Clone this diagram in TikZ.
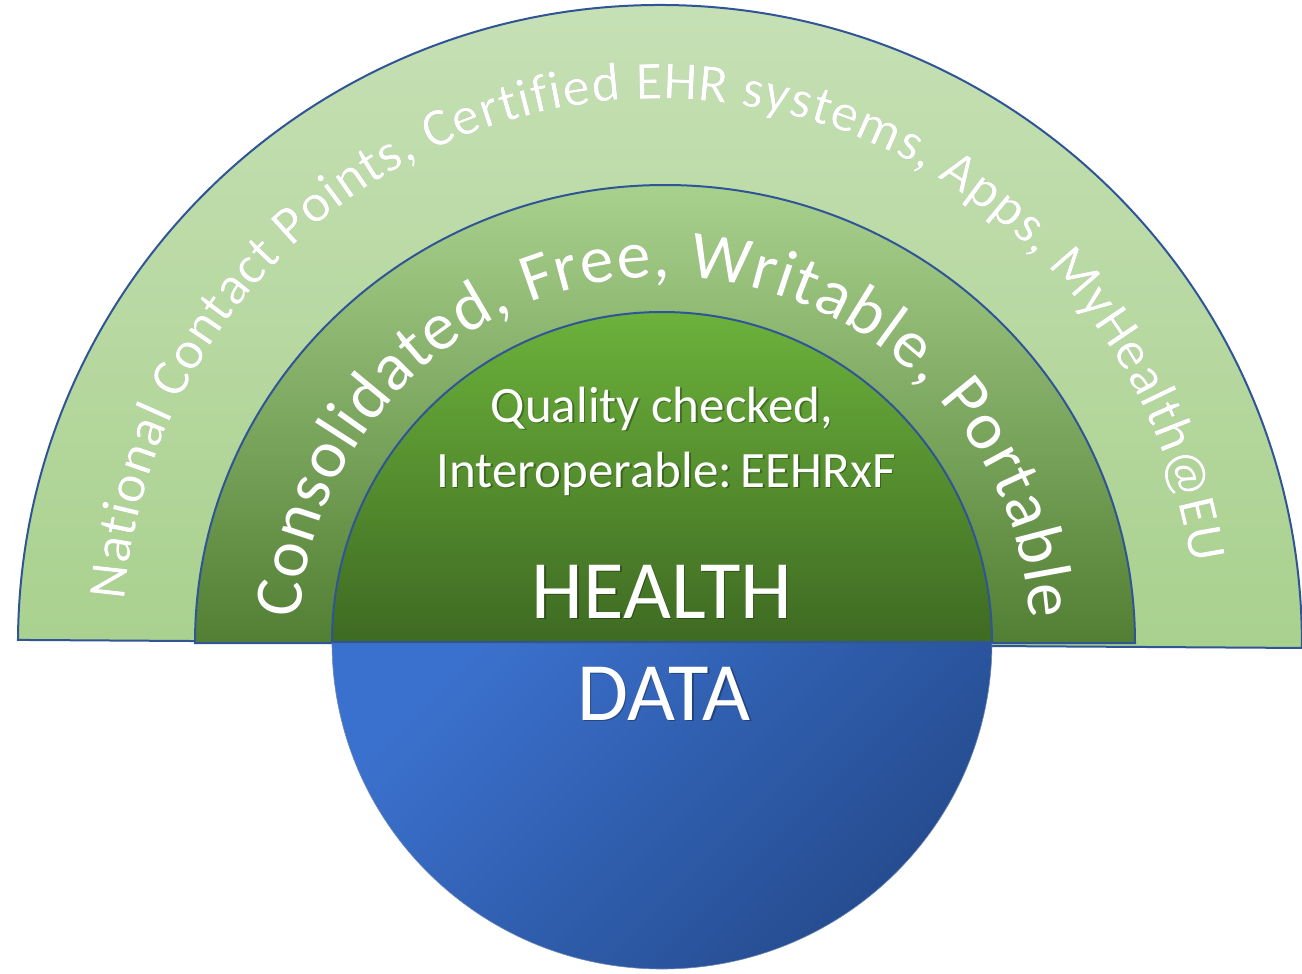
\documentclass[tikz,border=0pt]{standalone}
\usepackage{fontspec}
\setmainfont{Carlito}
\usetikzlibrary{positioning, calc, decorations.text}
\definecolor{ringline}{HTML}{2F5597}
\definecolor{outertop}{HTML}{C6E0B5}
\definecolor{outerbot}{HTML}{A9D18E}
\definecolor{midtop}{HTML}{A9D18E}
\definecolor{midbot}{HTML}{527F33}
\definecolor{innertop}{HTML}{6CB23B}
\definecolor{innerbot}{HTML}{3E6A22}
\definecolor{bluetop}{HTML}{3B71CE}
\definecolor{bluebot}{HTML}{244A8C}
\newcommand*{\outerfont}{\fontsize{54}{64}\selectfont}
\newcommand*{\midfont}{\fontsize{68}{80}\selectfont}

\begin{document}
\begin{tikzpicture}[x=1pt, y=1pt,
  band/.style={draw=ringline, line width=2pt},
  word/.style={text=white, inner sep=0pt, anchor=base, font=\fontsize{#1}{#1}\selectfont},
  wordshadow/.style={word=#1, text=black, opacity=.3, xshift=1.5pt, yshift=-1.5pt},
  arctext/.style={decorate, decoration={text along path, text align={fit to path}, text={#1}}}]

\useasboundingbox (0,0) rectangle (1302,-974);

\newcommand*{\ringlabel}[4]{\node [wordshadow=#2] (#1shadow) at #3 {#4};
  \node [word=#2] (#1) at #3 {#4};}

% RINGS

\coordinate (outerhub) at (660,-644);
\coordinate (midhub)   at (665,-643);
\coordinate (innerhub) at (662,-642);

\begin{scope}[rotate around={-0.36:(outerhub)}]
\shadedraw [band, top color=outertop, bottom color=outerbot]
  ($(outerhub)+(-642,0)$) arc [start angle=180, end angle=0, x radius=642, y radius=639] -- cycle;
\end{scope}

\shadedraw [band, top color=midtop, bottom color=midbot]
  ($(midhub)+(-470,0)$) arc [start angle=180, end angle=0, x radius=470, y radius=458] -- cycle;

\shadedraw [draw=ringline!70, line width=.6pt, top color=bluetop, bottom color=bluebot, shading angle=45]
  ($(innerhub)+(-330,0)$) arc [start angle=180, end angle=360, x radius=330, y radius=327] -- cycle;

\shadedraw [band, top color=innertop, bottom color=innerbot]
  ($(innerhub)+(-330,0)$) arc [start angle=180, end angle=0, radius=330] -- cycle;

% CURVED TEXT

\begin{scope}[opacity=.3, shift={(1.5,-1.5)}]
\path [arctext={|\outerfont\color{black}|National Contact Points, Certified EHR systems, Apps, MyHealth@EU}]
  ($(outerhub)+(175.4:537 and 545)$) arc [start angle=175.4, end angle=8.5, x radius=537, y radius=545];
\path [arctext={|\midfont\color{black}|Consolidated, Free, Writable, Portable}]
  ($(midhub)+(176.2:366)$) arc [start angle=176.2, end angle=3.7, radius=366];
\end{scope}

\path [arctext={|\outerfont\color{white}|National Contact Points, Certified EHR systems, Apps, MyHealth@EU}]
  ($(outerhub)+(175.4:537 and 545)$) arc [start angle=175.4, end angle=8.5, x radius=537, y radius=545];
\path [arctext={|\midfont\color{white}|Consolidated, Free, Writable, Portable}]
  ($(midhub)+(176.2:366)$) arc [start angle=176.2, end angle=3.7, radius=366];

% LABELS

\ringlabel{quality}{51}{(662,-422)}{Quality checked,}
\ringlabel{interop}{51}{(666,-487)}{Interoperable:\,EEHRxF}
\ringlabel{health}{83}{(662,-618)}{HEALTH}
\ringlabel{data}{83}{(664,-720)}{DATA}

\end{tikzpicture}
\end{document}
